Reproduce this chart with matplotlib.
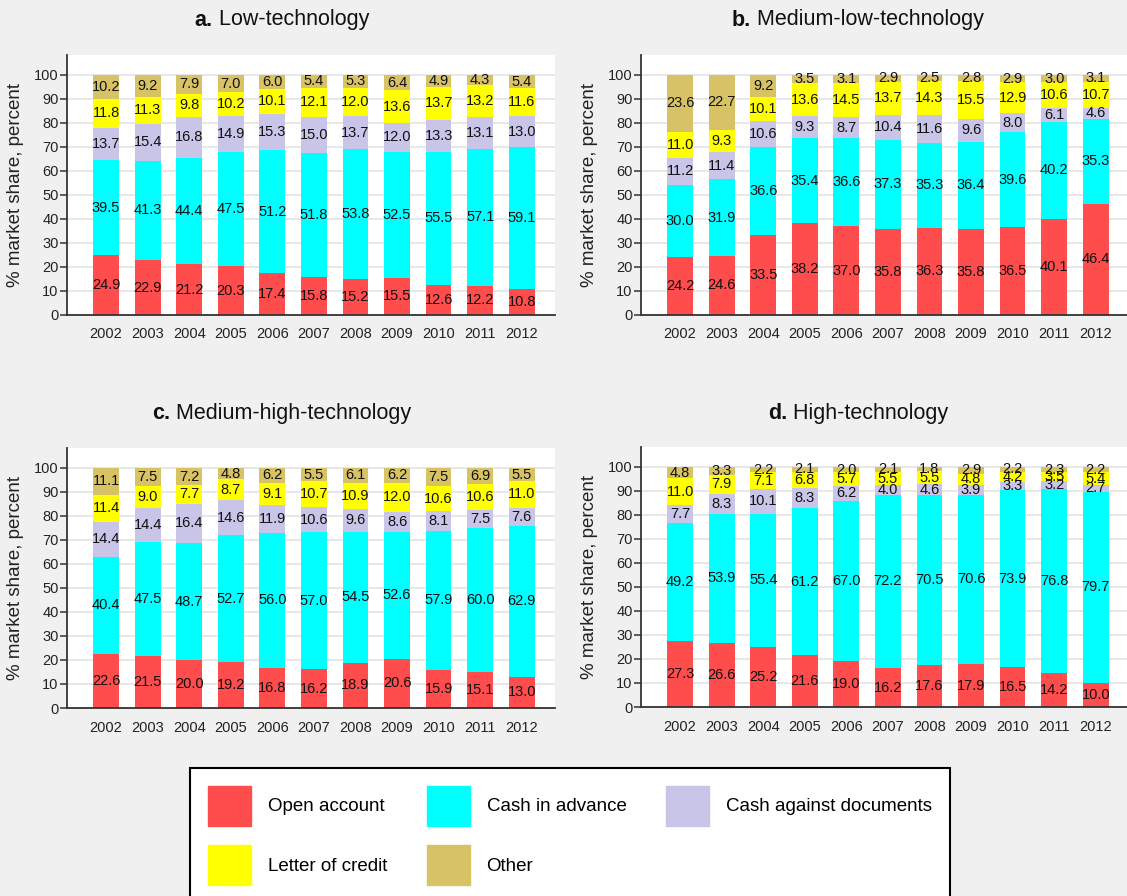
import matplotlib
matplotlib.use("Agg")
import matplotlib.pyplot as plt
import matplotlib.patches as mpatches
import numpy as np

years = [str(y) for y in range(2002, 2013)]

series_names = ["Open account", "Cash in advance", "Cash against documents",
                "Letter of credit", "Other"]
series_colors = ["#FF4C4C", "#00FFFF", "#C8C5E8", "#FFFF00", "#D8C266"]

# a. low-technology
low_open = [24.9, 22.9, 21.2, 20.3, 17.4, 15.8, 15.2, 15.5, 12.6, 12.2, 10.8]
low_cia = [39.5, 41.3, 44.4, 47.5, 51.2, 51.8, 53.8, 52.5, 55.5, 57.1, 59.1]
low_cad = [13.7, 15.4, 16.8, 14.9, 15.3, 15.0, 13.7, 12.0, 13.3, 13.1, 13.0]
low_loc = [11.8, 11.3, 9.8, 10.2, 10.1, 12.1, 12.0, 13.6, 13.7, 13.2, 11.6]
low_other = [10.2, 9.2, 7.9, 7.0, 6.0, 5.4, 5.3, 6.4, 4.9, 4.3, 5.4]

# b. medium-low-technology
mlow_open = [24.2, 24.6, 33.5, 38.2, 37.0, 35.8, 36.3, 35.8, 36.5, 40.1, 46.4]
mlow_cia = [30.0, 31.9, 36.6, 35.4, 36.6, 37.3, 35.3, 36.4, 39.6, 40.2, 35.3]
mlow_cad = [11.2, 11.4, 10.6, 9.3, 8.7, 10.4, 11.6, 9.6, 8.0, 6.1, 4.6]
mlow_loc = [11.0, 9.3, 10.1, 13.6, 14.5, 13.7, 14.3, 15.5, 12.9, 10.6, 10.7]
mlow_other = [23.6, 22.7, 9.2, 3.5, 3.1, 2.9, 2.5, 2.8, 2.9, 3.0, 3.1]

# c. medium-high-technology
mhigh_open = [22.6, 21.5, 20.0, 19.2, 16.8, 16.2, 18.9, 20.6, 15.9, 15.1, 13.0]
mhigh_cia = [40.4, 47.5, 48.7, 52.7, 56.0, 57.0, 54.5, 52.6, 57.9, 60.0, 62.9]
mhigh_cad = [14.4, 14.4, 16.4, 14.6, 11.9, 10.6, 9.6, 8.6, 8.1, 7.5, 7.6]
mhigh_loc = [11.4, 9.0, 7.7, 8.7, 9.1, 10.7, 10.9, 12.0, 10.6, 10.6, 11.0]
mhigh_other = [11.1, 7.5, 7.2, 4.8, 6.2, 5.5, 6.1, 6.2, 7.5, 6.9, 5.5]

# d. high-technology
high_open = [27.3, 26.6, 25.2, 21.6, 19.0, 16.2, 17.6, 17.9, 16.5, 14.2, 10.0]
high_cia = [49.2, 53.9, 55.4, 61.2, 67.0, 72.2, 70.5, 70.6, 73.9, 76.8, 79.7]
high_cad = [7.7, 8.3, 10.1, 8.3, 6.2, 4.0, 4.6, 3.9, 3.3, 3.2, 2.7]
high_loc = [11.0, 7.9, 7.1, 6.8, 5.7, 5.5, 5.5, 4.8, 4.2, 3.5, 5.4]
high_other = [4.8, 3.3, 2.2, 2.1, 2.0, 2.1, 1.8, 2.9, 2.2, 2.3, 2.2]

panels = [
    ("a.", "Low-technology", [low_open, low_cia, low_cad, low_loc, low_other]),
    ("b.", "Medium-low-technology", [mlow_open, mlow_cia, mlow_cad, mlow_loc, mlow_other]),
    ("c.", "Medium-high-technology", [mhigh_open, mhigh_cia, mhigh_cad, mhigh_loc, mhigh_other]),
    ("d.", "High-technology", [high_open, high_cia, high_cad, high_loc, high_other]),
]

plt.rcParams["font.family"] = ["Liberation Sans", "DejaVu Sans"]

W, H = 1127, 896
fig = plt.figure(figsize=(W / 100, H / 100), dpi=100, facecolor="#F0F0F0")

# axes rectangles in pixels: left, bottom (from top), width, height
boxes = [(67, 315, 488, 260), (641, 315, 488, 260),
         (67, 708, 488, 260), (641, 707, 488, 260)]
title_pos = [(282, 20), (858, 20), (282, 413), (858, 413)]

x = np.arange(len(years))
for (tag, name, stack), (l, b, w, h) in zip(panels, boxes):
    ax = fig.add_axes([l / W, 1 - b / H, w / W, h / H])
    ax.set_facecolor("white")
    bottom = np.zeros(len(years))
    for vals, col in zip(stack, series_colors):
        vals = np.array(vals)
        ax.bar(x, vals, 0.62, bottom=bottom, color=col, zorder=2)
        for xi, yb, v in zip(x, bottom, vals):
            ax.text(xi, yb + v / 2, f"{v:.1f}", ha="center", va="center",
                    fontsize=10.5, color="#111111", zorder=3)
        bottom += vals
    ax.set_xlim(-0.94, 10.8)
    ax.set_ylim(0, 108.3)
    ax.set_yticks(range(0, 101, 10))
    ax.set_xticks(x)
    ax.set_xticklabels(years)
    ax.yaxis.grid(True, color="#E6E6E6", linewidth=1.3, zorder=0)
    ax.set_axisbelow(True)
    for s in ["top", "right"]:
        ax.spines[s].set_visible(False)
    for s in ["left", "bottom"]:
        ax.spines[s].set_color("#333333")
        ax.spines[s].set_linewidth(1.3)
    ax.tick_params(axis="x", length=0, pad=9, labelsize=10.5, labelcolor="#222222")
    ax.tick_params(axis="y", length=5, width=1.1, color="#333333", pad=1,
                   labelsize=10.5, labelcolor="#222222")
    ax.set_ylabel("% market share, percent", fontsize=13.5, color="#222222",
                  labelpad=7)

# titles: bold panel letter followed by the panel name, centred as one line
title_pairs = []
for (tag, name, _), (cx, cy) in zip(panels, title_pos):
    t1 = fig.text(cx / W, 1 - cy / H, tag, fontsize=15.5, fontweight="bold",
                  ha="left", va="center", color="#111111")
    t2 = fig.text(0, 0, " " + name, fontsize=15.5, ha="left", va="center",
                  color="#111111")
    title_pairs.append((t1, t2, cx, cy))

fig.canvas.draw()
r = fig.canvas.get_renderer()
for t1, t2, cx, cy in title_pairs:
    w1 = t1.get_window_extent(r).width
    w2 = t2.get_window_extent(r).width
    start = cx - (w1 + w2) / 2
    t1.set_position((start / W, 1 - cy / H))
    t2.set_position(((start + w1) / W, 1 - cy / H))

handles = [mpatches.Patch(color=c, label=n) for c, n in zip(series_colors, series_names)]
order = [0, 3, 1, 4, 2]
leg = fig.legend([handles[i] for i in order], [series_names[i] for i in order],
                 loc="upper left", bbox_to_anchor=(190 / W, 1 - 768 / H),
                 ncol=3, fontsize=13.5, frameon=True, fancybox=False,
                 framealpha=1, edgecolor="black", handlelength=2.3,
                 handleheight=2.9, handletextpad=0.9, columnspacing=2.1,
                 labelspacing=1.05, borderpad=0.95, borderaxespad=0)
leg.get_frame().set_linewidth(1.5)
leg.get_frame().set_facecolor("white")

fig.savefig("out.png", dpi=100, facecolor=fig.get_facecolor())
